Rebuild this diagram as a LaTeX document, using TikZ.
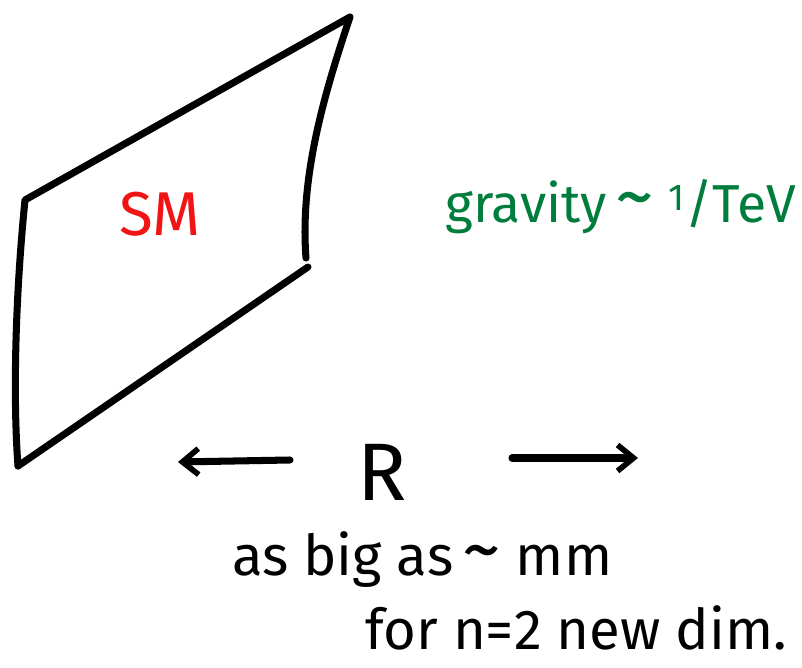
\documentclass[tikz,border=0pt]{standalone}
\usepackage{fontspec}
\setmainfont{Fira Sans}
\usepackage{xcolor}
\usetikzlibrary{arrows.meta, positioning}

\definecolor{smred}{RGB}{240,20,20}
\definecolor{gravgreen}{RGB}{0,125,60}
\newcommand{\bigtilde}{{\fontsize{56}{46}\selectfont\textasciitilde}}

\begin{document}
\begin{tikzpicture}[
        x=0.025cm, y=-0.025cm,
        pen/.style={line width=5pt, line cap=round, line join=round},
        arrow/.style={pen, -{Straight Barb[length=4mm, width=6.5mm, line width=4pt]}},
        label/.style={inner sep=0pt, font=\fontsize{40}{46}\selectfont}
    ]
        \useasboundingbox (0,0) rectangle (802,668);
        % the brane
        \draw[pen] (18,466) -- (308,267);
        \draw[pen] (306,258) .. controls (300,180) and (322,100) .. (350,17)
            -- (25,200) .. controls (15,300) and (13,400) .. (18,466);
        \node[label, text=smred, font=\fontsize{44}{50}\selectfont] (sm) at (160,214) {SM};
        \node[label, text=gravgreen, font=\fontsize{38}{44}\selectfont, anchor=west] (grav) at (445,207) {gravity\,\bigtilde\ \textsuperscript{1}/TeV};
        % size of the extra dimension
        \node[label, font=\fontsize{58}{64}\selectfont] (r) at (382,472) {R};
        \coordinate (lt) at (290,460);
        \coordinate (lh) at (178,462);
        \coordinate (rt) at (512,458);
        \coordinate (rh) at (638,458);
        \draw[arrow] (lt) -- (lh);
        \draw[arrow] (rt) -- (rh);
        \node[label, anchor=west] (big) at (232,560) {as big as\,\bigtilde\ mm};
        \node[label, anchor=west] (dim) at (365,628) {for n=2 new dim.};
    \end{tikzpicture}
\end{document}
